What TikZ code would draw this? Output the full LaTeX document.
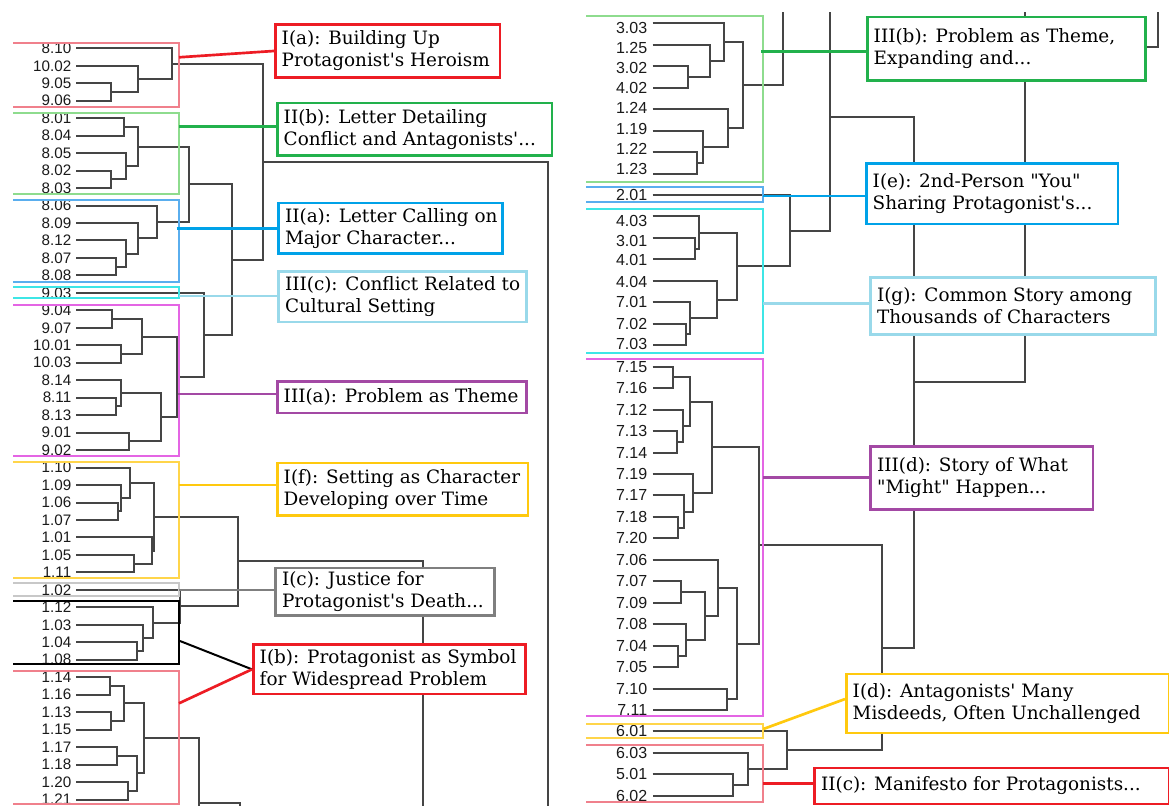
\documentclass[tikz,border=0pt]{standalone}
\usepackage{fontspec}
\newfontfamily\lfnt{Liberation Sans}
\newfontfamily\bfnt{DejaVu Serif}
\usetikzlibrary{calc}
\definecolor{cRed}{HTML}{ED1C24}
\definecolor{cPink}{HTML}{F0808C}
\definecolor{cGreen}{HTML}{22B14C}
\definecolor{cLGreen}{HTML}{8EDC8E}
\definecolor{cBlue}{HTML}{00A2E8}
\definecolor{cHBlue}{HTML}{5AAEEE}
\definecolor{cLBlue}{HTML}{99D9EA}
\definecolor{cCyan}{HTML}{3EE6E6}
\definecolor{cPurple}{HTML}{A349A4}
\definecolor{cMag}{HTML}{E465E4}
\definecolor{cYellow}{HTML}{FFC90E}
\definecolor{cLYellow}{HTML}{FFD54A}
\definecolor{cGray}{HTML}{7F7F7F}
\definecolor{cLGray}{HTML}{C8C8C8}
\definecolor{dgray}{HTML}{454545}
\definecolor{ltext}{HTML}{1A1A1A}
\newcommand\djn[4]{\path let \p1=($(#3)!.5!(#4)$) in coordinate (#1) at ({#2*0.75pt},\y1);
  \draw[dline] (#3) -| (#1) |- (#4);}
\newcommand\tbx[7]{\node[tbox,draw=#2,minimum width={(#5-#3)*0.75pt},minimum height={(#6-#4)*0.75pt}] (#1) at (#3,#4) {};
  \node[btext] (#1-t) at ([xshift=5.6pt]#1.west) {#7};}
\begin{document}
\begin{tikzpicture}[x=0.75pt,y=-0.75pt,
  dline/.style={draw=dgray,line width=1.5pt},
  hl/.style={line width=1.4pt},
  conn/.style={line width=2pt},
  tbox/.style={line width=2pt,fill=white,anchor=north west,inner sep=0pt},
  btext/.style={font=\bfnt\fontsize{13.8}{16.5}\selectfont,align=left,anchor=west,inner sep=0pt,text=black},
  leafL/.style={font=\lfnt\fontsize{11.4}{12}\selectfont,anchor=east,inner sep=0pt,text=ltext},
  leafR/.style={font=\lfnt\fontsize{12}{13}\selectfont,anchor=east,inner sep=0pt,text=ltext}]
\fill[white] (0,0) rectangle (1169,806);
\useasboundingbox (0,0) rectangle (1169,806);
% ---------- left leaves
\foreach \i/\t in {0/8.10,1/10.02,2/9.05,3/9.06,4/8.01,5/8.04,6/8.05,7/8.02,8/8.03,9/8.06,10/8.09,11/8.12,12/8.07,13/8.08,14/9.03,15/9.04,16/9.07,17/10.01,18/10.03,19/8.14,20/8.11,21/8.13,22/9.01,23/9.02,24/1.10,25/1.09,26/1.06,27/1.07,28/1.01,29/1.05,30/1.11,31/1.02,32/1.12,33/1.03,34/1.04,35/1.08,36/1.14,37/1.16,38/1.13,39/1.15,40/1.17,41/1.18,42/1.20,43/1.21}{
  \coordinate (L\i) at (76,{48.3+17.47*\i});
  \node[leafL] (LT\i) at (71.5,{48.3+17.47*\i}) {\t};
}
% ---------- right leaves
\foreach \i/\t/\ly in {0/3.03/28.3,1/1.25/48.3,2/3.02/68.3,3/4.02/88.3,4/1.24/108.3,5/1.19/129.3,6/1.22/149.3,7/1.23/169.3,8/2.01/195,9/4.03/221,10/3.01/241,11/4.01/260,12/4.04/281.5,13/7.01/302,14/7.02/323.5,15/7.03/344,16/7.15/366.66,17/7.16/388.12,18/7.12/409.58,19/7.13/431.04,20/7.14/452.5,21/7.19/473.96,22/7.17/495.42,23/7.18/516.88,24/7.20/538.34,25/7.06/559.8,26/7.07/581.26,27/7.09/602.72,28/7.08/624.18,29/7.04/645.64,30/7.05/667.1,31/7.10/688.56,32/7.11/710.02,33/6.01/731.48,34/6.03/752.94,35/5.01/774.4,36/6.02/795.86}{
  \coordinate (R\i) at (652.7,{23.3+21.46*\i});
  \node[leafR] (RT\i) at (647.5,\ly) {\t};
}
% ---------- left tree
\djn{a1}{111}{L2}{L3}
\djn{a2}{138.3}{L1}{a1}
\djn{a3}{172.3}{L0}{a2}
\djn{b1}{124}{L4}{L5}
\djn{b2}{111}{L7}{L8}
\djn{b3}{125.7}{L6}{b2}
\djn{b4}{138.3}{b1}{b3}
\djn{c1}{115.7}{L12}{L13}
\djn{c2}{125.7}{L11}{c1}
\djn{c3}{138.3}{L10}{c2}
\djn{c4}{157.3}{L9}{c3}
\djn{bc}{189.3}{b4}{c4}
\djn{d1}{112.3}{L15}{L16}
\djn{d2}{120.7}{L17}{L18}
\djn{d3}{141.7}{d1}{d2}
\djn{d4}{115.7}{L20}{L21}
\djn{d5}{121}{L19}{d4}
\djn{d6}{129.3}{L22}{L23}
\djn{d7}{160.7}{d5}{d6}
\djn{d8}{176.7}{d3}{d7}
\djn{d9}{204}{L14}{d8}
\djn{bcd}{232.3}{bc}{d9}
\djn{A}{263.3}{a3}{bcd}
\djn{e1}{118.3}{L26}{L27}
\djn{e2}{120.7}{L25}{e1}
\djn{e3}{130}{L24}{e2}
\djn{e4}{134.3}{L29}{L30}
\djn{e5}{151.7}{L28}{e4}
\djn{e6}{154.3}{e3}{e5}
\djn{f1}{136.7}{L34}{L35}
\djn{f2}{142.7}{L33}{f1}
\djn{f3}{153.3}{L32}{f2}
\djn{f4}{180}{L31}{f3}
\djn{ef}{238.3}{e6}{f4}
\djn{g1}{110}{L36}{L37}
\djn{g2}{111}{L38}{L39}
\djn{g3}{124}{g1}{g2}
\djn{g4}{117.3}{L40}{L41}
\djn{g5}{128.3}{L42}{L43}
\djn{g6}{136.7}{g4}{g5}
\djn{g7}{144.3}{g3}{g6}
\coordinate (Aend) at (548,806);
\draw[dline] (A) -| (Aend);
\coordinate (EFend) at (423.3,806);
\draw[dline] (ef) -| (EFend);
\coordinate (Gend) at (199,806);
\draw[dline] (g7) -| (Gend);
\coordinate (Gj) at (199,802.7);
\coordinate (Gk) at (240,806);
\draw[dline] (Gj) -| (Gk);
% ---------- right tree
\djn{ra}{688.3}{R2}{R3}
\djn{rb}{710}{R1}{ra}
\djn{rc}{724.3}{R0}{rb}
\djn{rd}{696.7}{R6}{R7}
\djn{re}{702.7}{R5}{rd}
\djn{rf}{727.7}{R4}{re}
\djn{rg}{743.3}{rc}{rf}
\djn{sa}{695}{R10}{R11}
\djn{sb}{699.3}{R9}{sa}
\djn{sc}{686}{R14}{R15}
\djn{sd}{690}{R13}{sc}
\djn{se}{716.7}{R12}{sd}
\djn{sf}{737.3}{sb}{se}
\djn{sg}{790}{R8}{sf}
\djn{ta}{673.3}{R16}{R17}
\djn{tb}{676.7}{R19}{R20}
\djn{tc}{682.7}{R18}{tb}
\djn{td}{690}{ta}{tc}
\djn{te}{677.7}{R23}{R24}
\djn{tf}{684}{R22}{te}
\djn{tg}{693.3}{R21}{tf}
\djn{th}{712.3}{td}{tg}
\djn{ua}{680.7}{R26}{R27}
\djn{ub}{677.7}{R29}{R30}
\djn{uc}{686}{R28}{ub}
\djn{ud}{705}{ua}{uc}
\djn{ue}{718.3}{R25}{ud}
\djn{uf}{727.3}{R31}{R32}
\djn{ug}{737.3}{ue}{uf}
\djn{tu}{759}{th}{ug}
\djn{va}{732.7}{R35}{R36}
\djn{vb}{748.3}{R34}{va}
\djn{vc}{786.7}{R33}{vb}
\djn{tv}{881.7}{tu}{vc}
\coordinate (rgtop) at (783.3,11.7);
\draw[dline] (rg) -| (rgtop);
\coordinate (top830) at (830,11.7);
\draw[dline] (sg) -| (top830);
\coordinate (T1) at (830,116.7);
\djn{W}{913.7}{T1}{tv}
\coordinate (top1025) at (1025,11.7);
\draw[dline] (W) -| (top1025);
\coordinate (K1) at (1025,46.7);
\coordinate (top1158) at (1158.3,11.7);
\draw[dline] (K1) -| (top1158);
% ---------- highlight rectangles (left)
\draw[hl,cPink]   (13,42.7) -- (179,42.7) -- (179,107.3) -- (13,107.3);
\draw[hl,cLGreen] (13,112.7) -- (179,112.7) -- (179,194.3) -- (13,194.3);
\draw[hl,cHBlue]  (13,200) -- (179,200) -- (179,281.7) -- (13,281.7);
\draw[hl,cCyan]   (13,287.3) -- (179,287.3) -- (179,298.3) -- (13,298.3);
\draw[hl,cMag]    (13,305) -- (179,305) -- (179,455.7) -- (13,455.7);
\draw[hl,cLYellow](13,461.7) -- (179,461.7) -- (179,577.7) -- (13,577.7);
\draw[hl,cLGray]  (13,583.3) -- (179,583.3) -- (179,595.7) -- (13,595.7);
\draw[hl,black]   (13,601) -- (179,601) -- (179,664.3) -- (13,664.3);
\draw[hl,cPink]   (13,670.7) -- (179,670.7) -- (179,804.3) -- (13,804.3);
% ---------- highlight rectangles (right)
\draw[hl,cLGreen] (586,16) -- (763.3,16) -- (763.3,181.7) -- (586,181.7);
\draw[hl,cHBlue]  (586,187.3) -- (763.3,187.3) -- (763.3,201.7) -- (586,201.7);
\draw[hl,cCyan]   (586,209.3) -- (763.3,209.3) -- (763.3,352.7) -- (586,352.7);
\draw[hl,cMag]    (586,359) -- (763.3,359) -- (763.3,716) -- (586,716);
\draw[hl,cLYellow](586,724.3) -- (763.3,724.3) -- (763.3,738.3) -- (586,738.3);
\draw[hl,cPink]   (586,745) -- (763.3,745) -- (763.3,801.7) -- (586,801.7);
% ---------- label boxes
\tbx{Ia}{cRed}{274}{23.3}{498.7}{76}{I(a): Building Up\\Protagonist's Heroism}
\tbx{IIb}{cGreen}{276}{101.7}{550.7}{154}{II(b): Letter Detailing\\Conflict and Antagonists'...}
\tbx{IIa}{cBlue}{277.3}{201.7}{501}{252.3}{II(a): Letter Calling on\\Major Character...}
\tbx{IIIc}{cLBlue}{277.3}{270}{525}{320.7}{III(c): Conflict Related to\\Cultural Setting}
\tbx{IIIa}{cPurple}{276}{380}{525}{411.7}{III(a): Problem as Theme}
\tbx{If}{cYellow}{276}{461.7}{526.7}{514}{I(f): Setting as Character\\Developing over Time}
\tbx{Ic}{cGray}{274.3}{566.7}{493.3}{614}{I(c): Justice for\\Protagonist's Death...}
\tbx{Ib}{cRed}{252}{643.3}{524}{692.7}{I(b): Protagonist as Symbol\\for Widespread Problem}
\tbx{IIIb}{cGreen}{866}{15.7}{1144}{79.3}{III(b): Problem as Theme,\\Expanding and...}
\tbx{Ie}{cBlue}{865}{162.3}{1116.7}{222.7}{I(e): 2nd-Person "You"\\Sharing Protagonist's...}
\tbx{Ig}{cLBlue}{869.3}{276}{1154}{333.3}{I(g): Common Story among\\Thousands of Characters}
\tbx{IIId}{cPurple}{869.3}{445}{1091.7}{508.3}{III(d): Story of What\\"Might" Happen...}
\tbx{Id}{cYellow}{845}{672.7}{1168.3}{731.7}{I(d): Antagonists' Many\\Misdeeds, Often Unchallenged}
\tbx{IIc}{cRed}{813.3}{766.7}{1168.3}{802.7}{II(c): Manifesto for Protagonists...}
% ---------- connectors
\coordinate (hIa) at (179,57.3);
\draw[conn,cRed] (hIa) -- (Ia.west);
\coordinate (hIIb) at (179,126.7);
\draw[conn,cGreen] (hIIb) -- (hIIb -| IIb.west);
\coordinate (hIIa) at (176.7,228.3);
\draw[conn,cBlue] (hIIa) -- (hIIa -| IIa.west);
\coordinate (hIIIc) at (179,296);
\draw[conn,cLBlue] (hIIIc) -- (hIIIc -| IIIc.west);
\coordinate (hIIIa) at (178,394);
\draw[conn,cPurple] (hIIIa) -- (hIIIa -| IIIa.west);
\coordinate (hIf) at (179,485);
\draw[conn,cYellow] (hIf) -- (hIf -| If.west);
\coordinate (hIc) at (179,590);
\draw[conn,cGray] (hIc) -- (hIc -| Ic.west);
\coordinate (hIbk) at (180,641);
\draw[line width=1.5pt,black] (hIbk) -- (Ib.west);
\coordinate (hIbr) at (179,703.3);
\draw[conn,cRed] (hIbr) -- (Ib.west);
\coordinate (hIIIb) at (761,51.7);
\draw[conn,cGreen] (hIIIb) -- (hIIIb -| IIIb.west);
\coordinate (hIe) at (763.3,196);
\draw[conn,cBlue] (hIe) -- (hIe -| Ie.west);
\coordinate (hIg) at (763.3,303.3);
\draw[conn,cLBlue] (hIg) -- (hIg -| Ig.west);
\coordinate (hIIId) at (763.3,477.7);
\draw[conn,cPurple] (hIIId) -- (hIIId -| IIId.west);
\coordinate (hId) at (763.3,729);
\draw[conn,cYellow] (hId) -- ($(Id.west)+(0,-4.5)$);
\coordinate (hIIc) at (763.3,783.3);
\draw[conn,cRed] (hIIc) -- (hIIc -| IIc.west);
\end{tikzpicture}
\end{document}
